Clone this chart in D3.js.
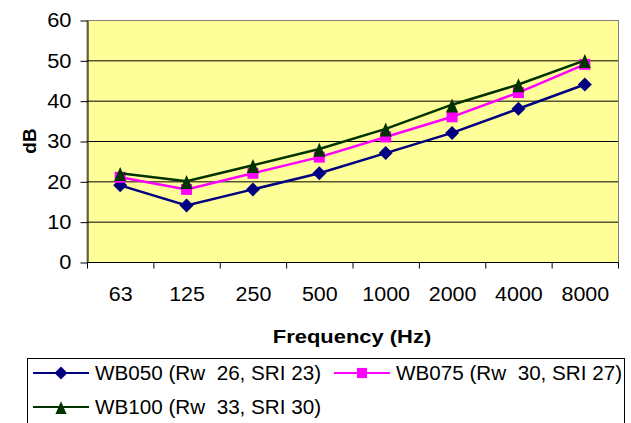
<!DOCTYPE html>
<html>
<head>
<meta charset="utf-8">
<script src="https://cdn.jsdelivr.net/npm/d3@7"></script>
<style>
  body { margin: 0; background: #fff; }
  text { font-family: "Liberation Sans", Arial, sans-serif; }
</style>
</head>
<body>
<svg id="chart" width="631" height="423"></svg>
<script>
// data
const frequencies = ["63", "125", "250", "500", "1000", "2000", "4000", "8000"];
const wb050 = [19, 14, 18, 22, 27, 32, 38, 44];
const wb075 = [21, 18, 22, 26, 31, 36, 42, 49];
const wb100 = [22, 20, 24, 28, 33, 39, 44, 50];
const seriesNames = ["WB050 (Rw  26, SRI 23)", "WB075 (Rw  30, SRI 27)", "WB100 (Rw  33, SRI 30)"];
const yTicks = [0, 10, 20, 30, 40, 50, 60];

// Excel-like markers
const diamond = {
    draw(ctx, size) {
        const r = Math.sqrt(size) * 0.62625;
        ctx.moveTo(0, -r); ctx.lineTo(r, 0); ctx.lineTo(0, r); ctx.lineTo(-r, 0); ctx.closePath();
    }
};
const triangle = {
    draw(ctx, size) {
        const h = Math.sqrt(size) * 1.2, w = h * 0.86;
        ctx.moveTo(0, -h * 0.45); ctx.lineTo(w / 2, h * 0.55); ctx.lineTo(-w / 2, h * 0.55); ctx.closePath();
    }
};

const series = [
    { name: seriesNames[0], values: wb050, color: "#000080", symbol: diamond, size: 125 },
    { name: seriesNames[1], values: wb075, color: "#FF00FF", symbol: d3.symbolSquare, size: 121 },
    { name: seriesNames[2], values: wb100, color: "#003300", symbol: triangle, size: 136 }
];

const svg = d3.select("#chart");
const plotL = 87, plotR = 618, plotT = 20, plotB = 262;

const x = d3.scaleBand().domain(frequencies).range([plotL, plotR]);
const y = d3.scaleLinear().domain([0, 60]).range([plotB, plotT]);

// the original text is a bit wider than Arial, stretch it around its anchor
function stretch(sel, sx) {
    sel.each(function () {
        const t = d3.select(this);
        const ax = +t.attr("x") || 0, ay = +t.attr("y") || 0;
        t.attr("transform", `translate(${ax},${ay}) scale(${sx},1) translate(${-ax},${-ay})`);
    });
}

// plot background
svg.append("rect")
    .attr("x", plotL).attr("y", plotT + 0.5)
    .attr("width", plotR - plotL + 0.5).attr("height", plotB - plotT)
    .attr("fill", "#FFFF99")
    .attr("stroke", "#808080")
    .attr("stroke-width", 1);

// horizontal gridlines
svg.append("g")
    .selectAll("line")
    .data(yTicks.filter(d => d > 0 && d < 60))
    .enter()
    .append("line")
    .attr("x1", plotL).attr("x2", plotR)
    .attr("y1", d => y(d) + 0.5).attr("y2", d => y(d) + 0.5)
    .attr("stroke", "#000")
    .attr("stroke-width", 1);

// y axis
const yAxis = svg.append("g")
    .attr("transform", `translate(${plotL + 0.5},0.5)`)
    .call(d3.axisLeft(y).tickValues(yTicks).tickSize(7).tickSizeOuter(0).tickPadding(9));
yAxis.select(".domain").attr("stroke", "#000");
yAxis.selectAll("text")
    .style("font-size", "19.5px")
    .attr("fill", "#000")
    .call(stretch, 1.12);

// x axis: ticks at band edges
const xAxisG = svg.append("g").attr("transform", `translate(0.5,${plotB + 0.5})`);
xAxisG.append("line")
    .attr("x1", plotL).attr("x2", plotR)
    .attr("stroke", "#000");
const edges = frequencies.map(f => x(f)).concat([plotR]);
xAxisG.selectAll(".tk")
    .data(edges)
    .enter()
    .append("line")
    .attr("class", "tk")
    .attr("x1", d => d).attr("x2", d => d)
    .attr("y1", 0).attr("y2", 6)
    .attr("stroke", "#000");
xAxisG.selectAll(".lbl")
    .data(frequencies)
    .enter()
    .append("text")
    .attr("class", "lbl")
    .attr("x", d => x(d) + x.bandwidth() / 2)
    .attr("y", 39)
    .attr("text-anchor", "middle")
    .style("font-size", "19.5px")
    .text(d => d)
    .call(stretch, 1.1);

// axis titles
svg.append("text")
    .attr("transform", `translate(36,141) rotate(-90)`)
    .attr("text-anchor", "middle")
    .style("font-size", "19px")
    .style("font-weight", "bold")
    .text("dB");

svg.append("text")
    .attr("x", 352).attr("y", 343)
    .attr("text-anchor", "middle")
    .style("font-size", "18px")
    .style("font-weight", "bold")
    .text("Frequency (Hz)")
    .call(stretch, 1.22);

// lines and markers
const line = d3.line()
    .x((d, i) => x(frequencies[i]) + x.bandwidth() / 2)
    .y(d => y(d));

series.forEach(s => {
    svg.append("path")
        .datum(s.values)
        .attr("d", line)
        .attr("fill", "none")
        .attr("stroke", s.color)
        .attr("stroke-width", 2.5);

    svg.append("g")
        .selectAll("path")
        .data(s.values)
        .enter()
        .append("path")
        .attr("transform", (d, i) => `translate(${x(frequencies[i]) + x.bandwidth() / 2},${y(d)})`)
        .attr("d", d3.symbol().type(s.symbol).size(s.size))
        .attr("fill", s.color);
});

// legend
const legend = svg.append("g");
legend.append("rect")
    .attr("x", 27.5).attr("y", 358.5)
    .attr("width", 597).attr("height", 80)
    .attr("fill", "#fff")
    .attr("stroke", "#000");

const legendPos = [
    { x: 33, y: 373 },
    { x: 334, y: 373 },
    { x: 33, y: 407 }
];

series.forEach((s, i) => {
    const p = legendPos[i];
    const g = legend.append("g").attr("transform", `translate(${p.x},${p.y})`);
    g.append("line")
        .attr("x1", 0).attr("x2", 56)
        .attr("stroke", s.color)
        .attr("stroke-width", 2);
    g.append("path")
        .attr("transform", "translate(28,0)")
        .attr("d", d3.symbol().type(s.symbol).size(s.size * 0.85))
        .attr("fill", s.color);
    g.append("text")
        .attr("x", 62).attr("y", 6.5)
        .style("font-size", "19.5px")
        .style("white-space", "pre")
        .attr("xml:space", "preserve")
        .text(s.name)
        .call(stretch, 1.06);
});
</script>
</body>
</html>
